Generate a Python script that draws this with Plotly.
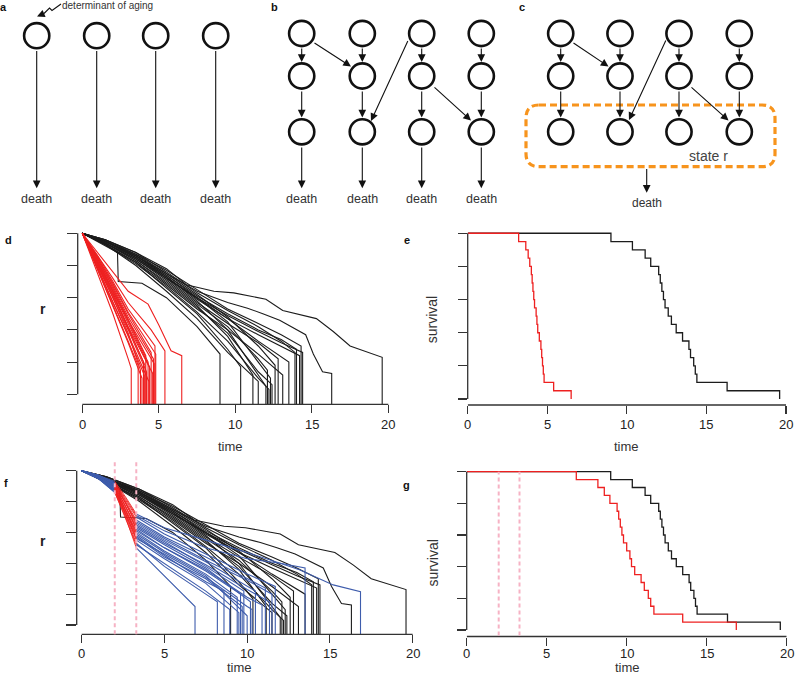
import plotly.graph_objects as go

W, H = 800, 675

# ---------------- data ----------------
T_ON, T_OFF = 2.0, 3.3   # intervention window (panel f, g)

# control individuals: (time, r) keypoints, last point = death
BLACK_PATHS = [
    [(0, 1), (1.5, 0.92), (2.3, 0.88), (2.35, 0.70), (3.9, 0.69), (5.5, 0.60), (7.5, 0.42), (9.0, 0.25)],
    [(0, 1), (1.5, 0.93), (3.5, 0.82), (5.5, 0.66), (7.5, 0.50), (9.5, 0.28), (10.35, 0.17)],
    [(0, 1), (1.5, 0.94), (3.5, 0.83), (5.5, 0.70), (7.5, 0.55), (9.5, 0.36), (11.15, 0.12)],
    [(0, 1), (1.5, 0.93), (3.5, 0.80), (5.5, 0.64), (7.5, 0.47), (9.5, 0.26), (11.5, 0.08)],
    [(0, 1), (1.5, 0.95), (3.5, 0.86), (5.5, 0.73), (7.5, 0.58), (9.5, 0.40), (11.5, 0.12), (12.0, 0.05)],
    [(0, 1), (1.5, 0.94), (3.5, 0.84), (5.5, 0.71), (7.5, 0.56), (9.5, 0.42), (11.5, 0.22), (12.1, 0.15)],
    [(0, 1), (1.5, 0.93), (3.5, 0.81), (5.5, 0.67), (7.5, 0.51), (9.5, 0.33), (11.5, 0.10), (12.2, 0.03)],
    [(0, 1), (1.5, 0.95), (3.5, 0.85), (5.5, 0.72), (7.5, 0.60), (9.5, 0.45), (11.5, 0.20), (12.3, 0.10)],
    [(0, 1), (1.5, 0.94), (3.5, 0.83), (5.5, 0.69), (7.5, 0.54), (9.5, 0.38), (11.5, 0.14), (12.4, 0.06)],
    [(0, 1), (1.5, 0.95), (3.5, 0.87), (5.5, 0.75), (7.5, 0.62), (9.5, 0.48), (11.5, 0.30), (12.6, 0.18)],
    [(0, 1), (1.5, 0.94), (3.5, 0.84), (5.5, 0.72), (7.5, 0.57), (9.5, 0.44), (11.5, 0.32), (12.8, 0.22)],
    [(0, 1), (1.5, 0.93), (3.5, 0.82), (5.5, 0.68), (7.5, 0.53), (9.5, 0.40), (11.5, 0.25), (13.1, 0.12)],
    [(0, 1), (1.5, 0.95), (3.5, 0.86), (5.5, 0.74), (7.5, 0.60), (9.5, 0.47), (11.5, 0.33), (13.5, 0.20)],
    [(0, 1), (1.5, 0.96), (3.5, 0.88), (5.5, 0.76), (7.5, 0.63), (9.5, 0.52), (11.5, 0.42), (13.0, 0.33), (13.9, 0.26)],
    [(0, 1), (1.5, 0.95), (3.5, 0.86), (5.5, 0.74), (7.5, 0.61), (9.5, 0.50), (11.5, 0.40), (13.0, 0.34), (14.0, 0.28)],
    [(0, 1), (1.5, 0.94), (3.5, 0.85), (5.5, 0.73), (7.5, 0.59), (9.5, 0.47), (11.5, 0.37), (13.0, 0.30), (14.2, 0.24)],
    [(0, 1), (1.5, 0.96), (3.5, 0.87), (5.5, 0.77), (7.5, 0.65), (9.5, 0.53), (11.5, 0.44), (13.0, 0.37), (14.3, 0.30)],
    [(0, 1), (1.5, 0.95), (3.5, 0.85), (5.5, 0.72), (7.5, 0.60), (9.5, 0.49), (11.5, 0.39), (13.0, 0.32), (14.4, 0.26)],
    [(0, 1), (1.5, 0.95), (3.5, 0.86), (5.5, 0.75), (7.5, 0.64), (9.5, 0.57), (10.8, 0.535), (11.8, 0.50),
     (12.9, 0.46), (14.6, 0.37), (15.1, 0.25), (15.7, 0.14), (16.3, 0.13)],
    [(0, 1), (1.5, 0.96), (3.5, 0.88), (5.5, 0.78), (6.8, 0.68), (8.6, 0.64), (9.9, 0.63), (12.0, 0.59),
     (13.1, 0.52), (15.3, 0.47), (16.4, 0.39), (17.5, 0.30), (19.6, 0.23)],
]

# fast-declining individuals (panel d/e)
RED_PATHS = [
    [(0, 1), (1, 0.75), (2, 0.50), (3, 0.22), (3.2, 0.16)],
    [(0, 1), (1, 0.78), (2, 0.56), (3, 0.33), (3.65, 0.18)],
    [(0, 1), (1, 0.80), (2, 0.60), (3, 0.38), (3.8, 0.15)],
    [(0, 1), (1, 0.77), (2, 0.55), (3, 0.32), (3.9, 0.10)],
    [(0, 1), (1, 0.82), (2, 0.63), (3, 0.42), (4.0, 0.20)],
    [(0, 1), (1, 0.79), (2, 0.58), (3, 0.36), (4.05, 0.12)],
    [(0, 1), (1, 0.81), (2, 0.62), (3, 0.41), (4.1, 0.18)],
    [(0, 1), (1, 0.84), (2, 0.66), (3, 0.46), (4.15, 0.24)],
    [(0, 1), (1, 0.80), (2, 0.60), (3, 0.40), (4.2, 0.14)],
    [(0, 1), (1, 0.83), (2, 0.65), (3, 0.45), (4.3, 0.20)],
    [(0, 1), (1, 0.78), (2, 0.57), (3, 0.37), (4.35, 0.08)],
    [(0, 1), (1, 0.82), (2, 0.64), (3, 0.44), (4.4, 0.17)],
    [(0, 1), (1, 0.85), (2, 0.68), (3, 0.50), (4.5, 0.26)],
    [(0, 1), (1, 0.81), (2, 0.61), (3, 0.42), (4.6, 0.13)],
    [(0, 1), (1, 0.84), (2, 0.67), (3, 0.48), (4.65, 0.22)],
    [(0, 1), (1, 0.83), (2, 0.64), (3, 0.46), (4.7, 0.19)],
    [(0, 1), (1, 0.86), (2, 0.70), (3, 0.53), (4.75, 0.30)],
    [(0, 1), (1, 0.85), (2, 0.69), (3, 0.51), (4.8, 0.25)],
    [(0, 1), (1, 0.86), (2, 0.72), (3, 0.57), (4.5, 0.40), (5.4, 0.27)],
    [(0, 1), (1, 0.88), (2, 0.76), (3, 0.64), (4.3, 0.56), (5.0, 0.43), (5.8, 0.27), (6.5, 0.24)],
]

# transiently perturbed individuals (panel f/g)
BLUE_PATHS = [
    [(0, 1), (1, 0.95), (2, 0.86), (2.65, 0.70), (3.3, 0.50), (5, 0.32), (6.85, 0.12)],
    [(0, 1), (1, 0.95), (2, 0.87), (2.65, 0.71), (3.3, 0.53), (5, 0.38), (7.5, 0.20), (8.2, 0.15)],
    [(0, 1), (1, 0.96), (2, 0.88), (2.65, 0.74), (3.3, 0.58), (5, 0.45), (7.5, 0.28), (8.6, 0.22)],
    [(0, 1), (1, 0.95), (2, 0.86), (2.65, 0.69), (3.3, 0.52), (5, 0.40), (7.5, 0.22), (8.95, 0.10)],
    [(0, 1), (1, 0.96), (2, 0.89), (2.65, 0.75), (3.3, 0.60), (5, 0.48), (7.5, 0.33), (9.4, 0.18)],
    [(0, 1), (1, 0.95), (2, 0.87), (2.65, 0.72), (3.3, 0.55), (5, 0.43), (7.5, 0.27), (9.5, 0.08)],
    [(0, 1), (1, 0.96), (2, 0.90), (2.65, 0.77), (3.3, 0.62), (5, 0.50), (7.5, 0.35), (9.6, 0.20)],
    [(0, 1), (1, 0.95), (2, 0.88), (2.65, 0.73), (3.3, 0.57), (5, 0.44), (7.5, 0.30), (9.7, 0.12)],
    [(0, 1), (1, 0.97), (2, 0.91), (2.65, 0.79), (3.3, 0.65), (5, 0.54), (7.5, 0.38), (9.8, 0.22)],
    [(0, 1), (1, 0.96), (2, 0.89), (2.65, 0.74), (3.3, 0.59), (5, 0.47), (7.5, 0.32), (10.0, 0.06)],
    [(0, 1), (1, 0.96), (2, 0.90), (2.65, 0.77), (3.3, 0.63), (5, 0.52), (7.5, 0.37), (10, 0.17), (10.2, 0.15)],
    [(0, 1), (1, 0.95), (2, 0.88), (2.65, 0.72), (3.3, 0.56), (5, 0.46), (7.5, 0.31), (10, 0.12), (10.3, 0.10)],
    [(0, 1), (1, 0.97), (2, 0.91), (2.65, 0.79), (3.3, 0.66), (5, 0.55), (7.5, 0.41), (10, 0.25), (10.5, 0.22)],
    [(0, 1), (1, 0.96), (2, 0.89), (2.65, 0.75), (3.3, 0.61), (5, 0.50), (7.5, 0.36), (10, 0.18), (10.9, 0.13)],
    [(0, 1), (1, 0.97), (2, 0.92), (2.65, 0.80), (3.3, 0.68), (5, 0.57), (7.5, 0.44), (10, 0.30), (11.1, 0.24)],
    [(0, 1), (1, 0.96), (2, 0.90), (2.65, 0.77), (3.3, 0.64), (5, 0.53), (7.5, 0.39), (10, 0.23), (11.35, 0.15)],
    [(0, 1), (1, 0.97), (2, 0.91), (2.65, 0.79), (3.3, 0.67), (5, 0.56), (7.5, 0.42), (10, 0.29), (11.5, 0.20)],
    [(0, 1), (1, 0.97), (2, 0.92), (2.65, 0.81), (3.3, 0.70), (5, 0.59), (7.5, 0.46), (10, 0.33), (11.7, 0.25)],
    [(0, 1), (1, 0.97), (2, 0.92), (2.65, 0.82), (3.3, 0.71), (5, 0.61), (7.5, 0.50), (10, 0.43), (12, 0.40), (13.5, 0.37)],
    [(0, 1), (1, 0.97), (2, 0.93), (2.65, 0.83), (3.3, 0.72), (5, 0.63), (7.5, 0.55), (10, 0.47), (12, 0.40),
     (13.2, 0.356), (15.2, 0.26), (16.85, 0.216)],
]

X_TICKS = [0, 5, 10, 15, 20]
X_TICKTEXT = ["0", "5", "10", "15", "20"]
Y_TICKS = [0, 0.2, 0.4, 0.6, 0.8, 1.0]

# ---------------- styles ----------------
FONT = "Liberation Sans, Arial, sans-serif"
BLACK = "#1c1c1c"
RED = "rgb(238,32,32)"
BLUE = "rgb(62,92,172)"
PINK = "rgb(246,178,196)"
ORANGE = "#F7941D"
AX = "#333333"


def traj_xy(paths, drop=-0.5):
    xs, ys = [], []
    for p in paths:
        for t, r in p:
            xs.append(t)
            ys.append(r)
        xs.append(p[-1][0])
        ys.append(drop)
        xs.append(None)
        ys.append(None)
    return xs, ys


def split_paths(paths):
    bx, by, rx, ry = [], [], [], []
    for p in paths:
        pre = [q for q in p if q[0] <= T_ON]
        mid = [q for q in p if T_ON <= q[0] <= T_OFF]
        post = [q for q in p if q[0] >= T_OFF]
        bx += [q[0] for q in pre] + [None]
        by += [q[1] for q in pre] + [None]
        bx += [q[0] for q in post] + [post[-1][0], None]
        by += [q[1] for q in post] + [-0.5, None]
        rx += [q[0] for q in mid] + [None]
        ry += [q[1] for q in mid] + [None]
    return bx, by, rx, ry


def survival(paths):
    d = sorted(p[-1][0] for p in paths)
    n = len(d)
    return [0] + d, [1] + [1 - (i + 1) / n for i in range(n)]


fig = go.Figure()

# panel d
x, y = traj_xy(BLACK_PATHS)
fig.add_trace(go.Scatter(x=x, y=y, mode="lines", line=dict(color=BLACK, width=1.1), xaxis="x", yaxis="y"))
x, y = traj_xy(RED_PATHS)
fig.add_trace(go.Scatter(x=x, y=y, mode="lines", line=dict(color=RED, width=1.1), xaxis="x", yaxis="y"))

# panel e
x, y = survival(BLACK_PATHS)
fig.add_trace(go.Scatter(x=x, y=y, mode="lines", line=dict(color=BLACK, width=1.3, shape="hv"), xaxis="x2", yaxis="y2"))
x, y = survival(RED_PATHS)
fig.add_trace(go.Scatter(x=x, y=y, mode="lines", line=dict(color=RED, width=1.3, shape="hv"), xaxis="x2", yaxis="y2"))

# panel f
x, y = traj_xy(BLACK_PATHS)
fig.add_trace(go.Scatter(x=x, y=y, mode="lines", line=dict(color=BLACK, width=1.1), xaxis="x3", yaxis="y3"))
bx, by, rx, ry = split_paths(BLUE_PATHS)
fig.add_trace(go.Scatter(x=bx, y=by, mode="lines", line=dict(color=BLUE, width=1.1), xaxis="x3", yaxis="y3"))
fig.add_trace(go.Scatter(x=rx, y=ry, mode="lines", line=dict(color=RED, width=0.9), xaxis="x3", yaxis="y3"))

# panel g
x, y = survival(BLACK_PATHS)
fig.add_trace(go.Scatter(x=x, y=y, mode="lines", line=dict(color=BLACK, width=1.3, shape="hv"), xaxis="x4", yaxis="y4"))
x, y = survival(BLUE_PATHS)
fig.add_trace(go.Scatter(x=x, y=y, mode="lines", line=dict(color=RED, width=1.3, shape="hv"), xaxis="x4", yaxis="y4"))


def xdom(p0, p1):
    return [p0 / W, p1 / W]


def ydom(ptop, pbot):
    return [1 - pbot / H, 1 - ptop / H]


def xax(dom, rng, anchor):
    return dict(domain=dom, range=rng, anchor=anchor, tickvals=X_TICKS, showticklabels=False,
                ticks="outside", ticklen=8, tickwidth=1.2, tickcolor=AX, showline=False,
                showgrid=False, zeroline=False)


def yax(dom, rng, anchor, ticklen):
    return dict(domain=dom, range=rng, anchor=anchor, tickvals=Y_TICKS, showticklabels=False,
                ticks="outside", ticklen=ticklen, tickwidth=1.2, tickcolor=AX, showline=False,
                showgrid=False, zeroline=False)


layout = dict(
    width=W, height=H, margin=dict(l=0, r=0, t=0, b=0), showlegend=False,
    paper_bgcolor="white", plot_bgcolor="rgba(0,0,0,0)",
    xaxis=xax(xdom(77.7, 392.9), [-0.3, 20.3], "y"),
    yaxis=yax(ydom(223.6, 404.3), [-0.062, 1.06], "x", 10),
    xaxis2=xax(xdom(467.7, 786.0), [0, 20], "y2"),
    yaxis2=yax(ydom(227.3, 405.0), [-0.036, 1.036], "x2", 9),
    xaxis3=xax(xdom(76.7, 417.6), [-0.3, 20.3], "y3"),
    yaxis3=yax(ydom(461.4, 634.3), [-0.06, 1.06], "x3", 10),
    xaxis4=xax(xdom(466.7, 786.7), [0, 20], "y4"),
    yaxis4=yax(ydom(465.2, 636.5), [-0.041, 1.041], "x4", 9),
    xaxis5=dict(domain=[0, 1], range=[0, W], anchor="y5", visible=False, fixedrange=True),
    yaxis5=dict(domain=[0, 1], range=[H, 0], anchor="x5", visible=False, fixedrange=True),
)

shapes = []
annotations = []

# R-style axis lines and tick labels
for xa, ya, shift in (("x", "y", -20), ("x2", "y2", -19), ("x3", "y3", -19), ("x4", "y4", -17)):
    shapes.append(dict(type="line", xref=xa, yref=ya + " domain", x0=0, x1=20, y0=0, y1=0,
                       line=dict(color=AX, width=1.3)))
    shapes.append(dict(type="line", xref=xa + " domain", yref=ya, x0=0, x1=0, y0=0, y1=1,
                       line=dict(color=AX, width=1.3)))
    for v, s in zip(X_TICKS, X_TICKTEXT):
        annotations.append(dict(xref=xa, yref=ya + " domain", x=v, y=0, yshift=shift, text=s,
                                showarrow=False, xanchor="center", yanchor="middle",
                                font=dict(family=FONT, size=13, color="#222")))

# intervention window markers
for t in (T_ON, T_OFF):
    shapes.append(dict(type="line", xref="x3", yref="y3 domain", x0=t, x1=t, y0=0, y1=1,
                       line=dict(color=PINK, width=2, dash="4px,3px")))
    shapes.append(dict(type="line", xref="x4", yref="y4", x0=t, x1=t, y0=-0.035, y1=1,
                       line=dict(color=PINK, width=2, dash="4px,3px")))


def circle(cx, cy, r=12.6):
    shapes.append(dict(type="circle", xref="x5", yref="y5", x0=cx - r, x1=cx + r, y0=cy - r, y1=cy + r,
                       line=dict(color="#111", width=2.6)))


def arrow(x0, y0, x1, y1):
    annotations.append(dict(xref="x5", yref="y5", axref="x5", ayref="y5", x=x1, y=y1, ax=x0, ay=y0,
                            text="", showarrow=True, arrowhead=2, arrowsize=1.4, arrowwidth=1.1,
                            arrowcolor="#111", standoff=0, startstandoff=0))


def text(x, y, s, size=12, bold=False, angle=0, color="#333"):
    annotations.append(dict(xref="x5", yref="y5", x=x, y=y, text=("<b>%s</b>" % s) if bold else s,
                            showarrow=False, textangle=angle, xanchor="center", yanchor="middle",
                            font=dict(family=FONT, size=size, color=color)))


# panel a
A_X = [36.7, 96.7, 155.7, 215.7]
for cx in A_X:
    circle(cx, 35.7)
    arrow(cx, 49.5, cx, 188.3)
    text(cx, 198.5, "death", size=12.5)
text(107.5, 5.5, "determinant of aging", size=10)
shapes.append(dict(type="path", xref="x5", yref="y5", path="M 61,4 L 52,10.5 L 49.5,8 L 44,13.5",
                   line=dict(color="#111", width=1.1)))
arrow(44, 13.5, 37, 16.5)

# panel b
B_X = [301.7, 362.3, 421.7, 481.3]
ROWS = [33.5, 76.0, 131.8]
for cx in B_X:
    for cy in ROWS:
        circle(cx, cy)
    arrow(cx, 47, cx, 62)
    arrow(cx, 90, cx, 117.5)
    arrow(cx, 146, cx, 188.3)
    text(cx, 198.5, "death", size=12.5)
arrow(313, 42, 351, 66.5)
arrow(408.5, 39.5, 371, 121)
arrow(433, 86, 471, 120.5)

# panel c
C_X = [560.7, 620.0, 679.0, 739.3]
for cx in C_X:
    for cy in ROWS:
        circle(cx, cy)
    arrow(cx, 47, cx, 62)
    arrow(cx, 90, cx, 117.5)
arrow(572, 42, 608.5, 66.5)
arrow(666.5, 39, 629, 120)
arrow(690, 86, 728.5, 120.5)
x0, x1, y0, y1, rr = 526, 775, 105, 166.7, 13
path = ("M %g,%g L %g,%g Q %g,%g %g,%g L %g,%g Q %g,%g %g,%g L %g,%g Q %g,%g %g,%g L %g,%g Q %g,%g %g,%g Z" % (
    x0 + rr, y0, x1 - rr, y0, x1, y0, x1, y0 + rr, x1, y1 - rr, x1, y1, x1 - rr, y1,
    x0 + rr, y1, x0, y1, x0, y1 - rr, x0, y0 + rr, x0, y0, x0 + rr, y0))
shapes.append(dict(type="path", xref="x5", yref="y5", path=path,
                   line=dict(color=ORANGE, width=3.2, dash="7px,4px")))
text(708.5, 156, "state r", size=14, color="#444")
arrow(646.7, 167.5, 646.7, 192.7)
text(646.7, 203.3, "death", size=12)

# panel letters
for s, px, py in (("a", 3.5, 7), ("b", 274, 6.5), ("c", 521.7, 6.5), ("d", 8.3, 240),
                  ("e", 406.7, 239.5), ("f", 6, 483.3), ("g", 406.7, 485)):
    text(px, py, s, size=11, bold=True, color="#111")

# axis titles
text(230, 446, "time", size=13)
text(626.7, 446.7, "time", size=13)
text(239.3, 667.5, "time", size=13)
text(627.7, 667.5, "time", size=13)
text(42.7, 309.3, "r", size=14, bold=True, color="#222")
text(42.7, 540.7, "r", size=14, bold=True, color="#222")
text(432.3, 320, "survival", size=14, angle=-90)
text(433.3, 563.3, "survival", size=14, angle=-90)

layout["shapes"] = shapes
layout["annotations"] = annotations
fig.update_layout(**layout)
fig.write_html("out.html", config={"displayModeBar": False, "staticPlot": True},
               post_script="document.body.style.margin='0px';document.body.style.overflow='hidden';")
